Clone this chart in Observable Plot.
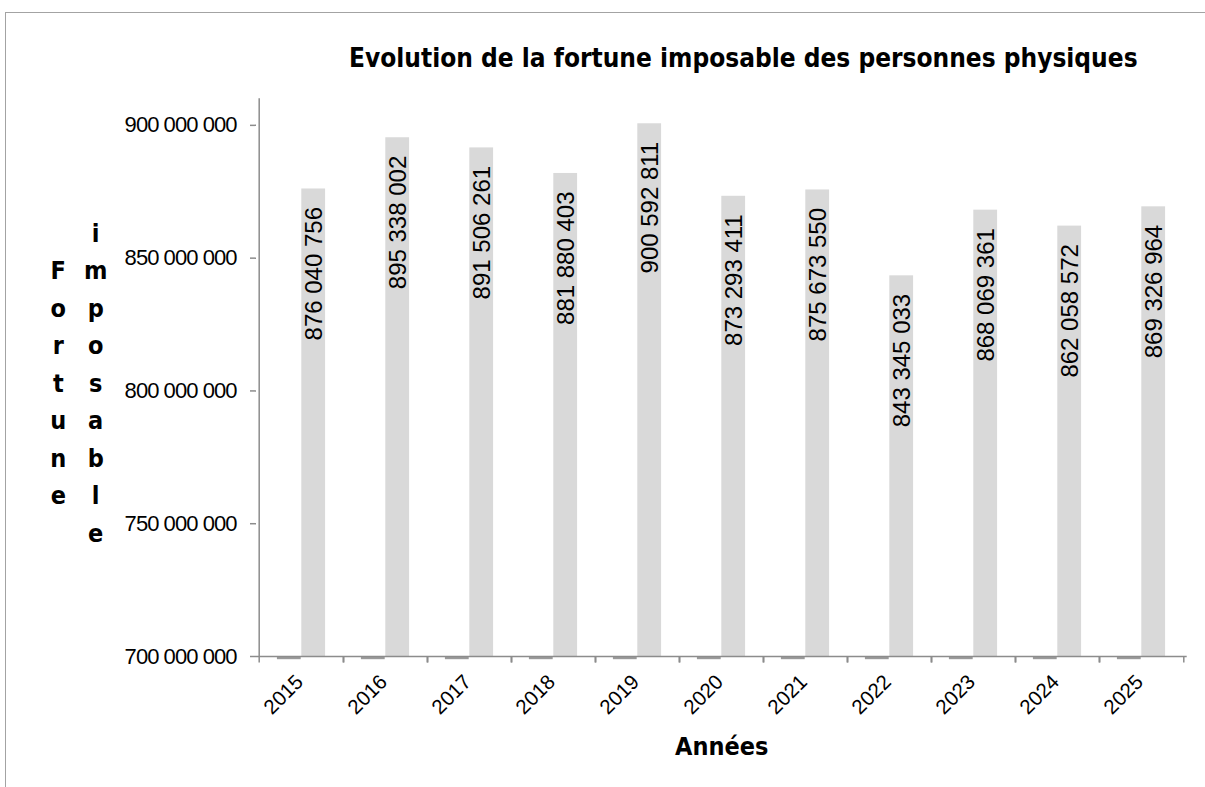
<!DOCTYPE html>
<html><head><meta charset="utf-8">
<script src="https://cdn.jsdelivr.net/npm/d3@7"></script>
<script src="https://cdn.jsdelivr.net/npm/@observablehq/plot@0.6"></script>
<style>
html,body{margin:0;padding:0;background:#fff;overflow:hidden;}
#wrap{position:relative;width:1205px;height:787px;overflow:hidden;background:#fff;}
#frame{position:absolute;left:5px;top:12px;width:1400px;height:1000px;border:1.5px solid #a3a3a3;}
#chart{position:absolute;left:0;top:0;}
</style></head><body>
<div id="wrap"><div id="frame"></div><div id="chart"></div></div>
<script>
// ---- data ----
const years = ["2015","2016","2017","2018","2019","2020","2021","2022","2023","2024","2025"];
const fortune = [876040756, 895338002, 891506261, 881880403, 900592811, 873293411, 875673550, 843345033, 868069361, 862058572, 869326964];
const yTicks = [700000000, 750000000, 800000000, 850000000, 900000000];
const yMin = 700000000;
const yMax = 910000000;
const title = "Evolution de la fortune imposable des personnes physiques";
const xLabel = "Années";
const yLabel = "Fortune imposable";

const data = years.map((y, i) => ({year: y, value: fortune[i]}));
const fmt = d3.formatLocale({decimal: ",", thousands: " ", grouping: [3], currency: ["", " €"]}).format(",");

const axisGray = "#8c8c8c";
const half = (1205 - 256 - 18.3) / years.length / 2;

const chart = Plot.plot({
  width: 1205,
  height: 787,
  marginLeft: 256,
  marginRight: 18.3,
  marginTop: 98.3,
  marginBottom: 131,
  style: {fontFamily: "'Liberation Sans', Arial, sans-serif", background: "transparent", color: "#000", overflow: "visible"},
  x: {type: "band", domain: years, padding: 0, axis: null},
  y: {domain: [yMin, yMax], axis: null},
  marks: [
    Plot.barY(data, {x: "year", y1: () => yMin, y2: "value", fill: "#d9d9d9", insetLeft: half, insetRight: half - 24.4}),
    Plot.tickY(data, {x: "year", y: () => yMin, stroke: "#9a9a9a", strokeWidth: 2.2, dy: 1.6, insetLeft: half - 24.4, insetRight: half}),
    Plot.ruleY([yMin], {stroke: axisGray, strokeWidth: 1.5}),
    Plot.ruleX([years[0]], {x: d => d, y1: () => yMin, y2: () => yMax, dx: -half, stroke: axisGray, strokeWidth: 1.5}),
    Plot.axisX({tickSize: 6.5, text: null, dx: half, stroke: axisGray, strokeWidth: 1.5, label: null}),
    Plot.axisX({tickSize: 6.5, text: null, dx: -half, stroke: axisGray, strokeWidth: 1.5, label: null}),
    Plot.axisX({tickSize: 0, tickPadding: 22, tickRotate: -45, fontSize: 20.5, fill: "#000", dx: -1.8, label: null}),
    Plot.axisY({ticks: yTicks, tickSize: 6, text: null, stroke: axisGray, strokeWidth: 1.5, label: null}),
    Plot.axisY({ticks: yTicks, tickSize: 0, tickPadding: 20, tickFormat: fmt, fontSize: 22, fill: "#000", label: null}),
    Plot.text(data, {x: "year", y: "value", text: d => fmt(d.value), rotate: -90, textAnchor: "end", dx: 13, dy: 18, fontSize: 24, fill: "#000"})
  ]
});
document.getElementById("chart").appendChild(chart);

// tighten the y tick labels (narrower set type as in the reference)
const yTickTexts = new Set(yTicks.map(fmt));
chart.querySelectorAll("text").forEach(t => {
  if (yTickTexts.has(t.textContent)) t.style.letterSpacing = "-0.95px";
});

const svg = d3.select(chart);
const bold = "'DejaVu Sans Condensed', 'DejaVu Sans', Verdana, sans-serif";
svg.append("text").text(title)
  .attr("x", 743.3).attr("y", 67).attr("text-anchor", "middle")
  .attr("font-family", bold).attr("font-weight", "bold").attr("font-size", 26).attr("fill", "#000");
svg.append("text").text(xLabel)
  .attr("x", 721.7).attr("y", 754.7).attr("text-anchor", "middle")
  .attr("font-family", bold).attr("font-weight", "bold").attr("font-size", 25).attr("fill", "#000");
const yl = svg.append("text").attr("font-family", bold).attr("font-weight", "bold").attr("font-size", 25)
  .attr("text-anchor", "middle").attr("fill", "#000");
const words = yLabel.split(" ");
const colX = [58.3, 95.7];
words.forEach((w, wi) => {
  const n = w.length;
  [...w].forEach((ch, i) => {
    const row = i - (n - 1) / 2 + 3;
    yl.append("tspan").attr("x", colX[wi]).attr("y", 279.3 + row * 37.5).text(ch);
  });
});
</script>
</body></html>
